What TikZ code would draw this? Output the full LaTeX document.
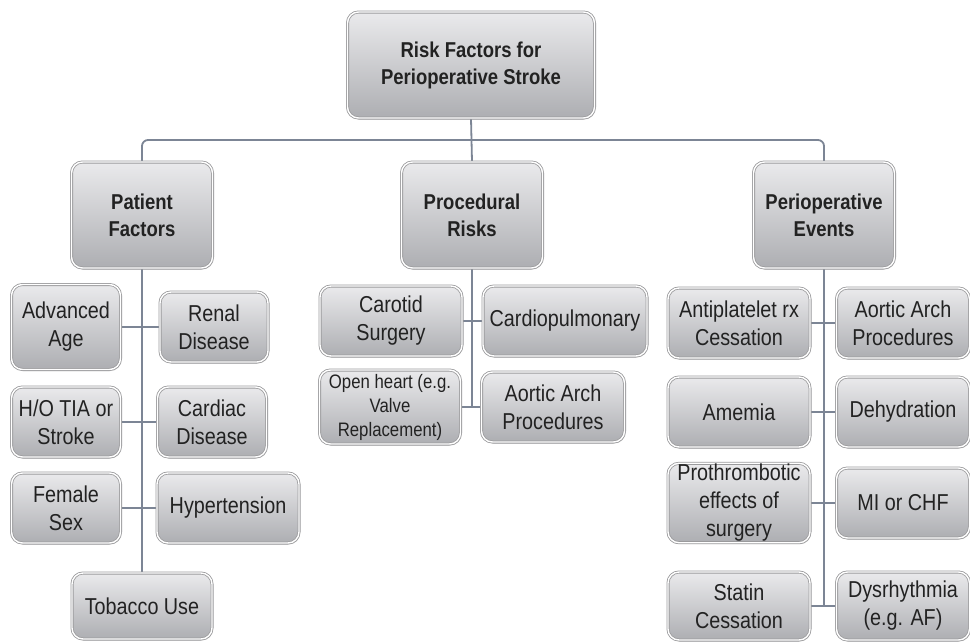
\documentclass[tikz,border=0pt]{standalone}
\usepackage{fontspec}
\setmainfont{Liberation Sans}[FakeStretch=0.86]
\usepackage{xcolor}
\usetikzlibrary{positioning,shadows,calc,backgrounds}
\definecolor{boxtop}{HTML}{EAEAEC}
\definecolor{boxbot}{HTML}{ADAEB2}
\definecolor{boxline}{HTML}{9A9A9C}
\definecolor{linkc}{HTML}{7C8595}
\definecolor{txt}{HTML}{222222}
\tikzset{%
   box/.style={
      rounded corners=11pt,
      draw=boxline,
      line width=0.8pt,
      double=white,
      double distance=1.4pt,
      top color=boxtop,
      bottom color=boxbot,
      drop shadow={opacity=0.25, shadow xshift=1pt, shadow yshift=-1.5pt},
      align=center,
      inner sep=1pt,
      text=txt,
      font=\fontsize{23}{28}\selectfont
   },
   head/.style={
      box,
      minimum width=141pt,
      minimum height=106pt,
      font=\fontsize{21.5}{27}\selectfont\bfseries
   },
   small/.style={
      font=\fontsize{19.5}{24}\selectfont
   },
   link/.style={
      draw=linkc,
      line width=1.8pt
   },
}
\begin{document}
\begin{tikzpicture}[x=1pt, y=1pt]
   \useasboundingbox (0,0) rectangle (970,-641);
   % top
   \node[head, minimum width=247pt] (root) at (471,-65) {Risk Factors for\\Perioperative Stroke};
   \node[head] (pat) at (142,-215) {Patient\\Factors};
   \node[head] (proc) at (472,-215) {Procedural\\Risks};
   \node[head] (peri) at (824,-215) {Perioperative\\Events};
   % patient factors
   \node[box, minimum width=109pt, minimum height=85pt] (age) at (66,-327) {Advanced\\Age};
   \node[box, minimum width=108pt, minimum height=70pt] (renal) at (214,-327) {Renal\\Disease};
   \node[box, minimum width=109pt, minimum height=70pt] (tia) at (66,-422) {H/O TIA or\\Stroke};
   \node[box, minimum width=109pt, minimum height=70pt] (cardiac) at (212,-422) {Cardiac\\Disease};
   \node[box, minimum width=109pt, minimum height=70pt] (female) at (66,-508) {Female\\Sex};
   \node[box, minimum width=142pt, minimum height=70pt] (hyper) at (228,-508) {Hypertension};
   \node[box, minimum width=140pt, minimum height=66pt] (tobacco) at (142,-606) {Tobacco Use};
   % procedural risks
   \node[box, minimum width=142pt, minimum height=70pt] (carotid) at (391,-321) {Carotid\\Surgery};
   \node[box, minimum width=164pt, minimum height=70pt] (cardio) at (565,-321) {Cardiopulmonary};
   \node[box, small, minimum width=141pt, minimum height=74pt] (openh) at (390,-407) {Open heart (e.g.\\Valve\\Replacement)};
   \node[box, minimum width=143pt, minimum height=70pt] (aortA) at (553,-407) {Aortic Arch\\Procedures};
   % perioperative events
   \node[box, minimum width=142pt, minimum height=70pt] (anti) at (739,-323) {Antiplatelet rx\\Cessation};
   \node[box, minimum width=133pt, minimum height=70pt] (aortB) at (903,-323) {Aortic Arch\\Procedures};
   \node[box, minimum width=142pt, minimum height=70pt] (amemia) at (739,-412) {Amemia};
   \node[box, minimum width=133pt, minimum height=70pt] (dehyd) at (903,-412) {Dehydration};
   \node[box, minimum width=142pt, minimum height=78pt] (proth) at (739,-503) {Prothrombotic\\effects of\\surgery};
   \node[box, minimum width=133pt, minimum height=70pt] (mi) at (903,-503) {MI or CHF};
   \node[box, minimum width=142pt, minimum height=68pt] (statin) at (739,-606) {Statin\\Cessation};
   \node[box, minimum width=133pt, minimum height=68pt] (dys) at (903,-606) {Dysrhythmia\\(e.g. AF)};
   % connectors
   \coordinate (bus) at (472,-140);
   \coordinate (procEnd) at (proc.south |- openh.east);
   \coordinate (periEnd) at (peri.south |- statin.east);
   \begin{pgfonlayer}{background}
   \draw[link] (root.south) -- (proc.north);
   \draw[link, rounded corners=6pt] (bus) -| (pat.north);
   \draw[link, rounded corners=6pt] (bus) -| (peri.north);
   \draw[link] (pat.south) -- (tobacco.north);
   \draw[link] (proc.south) -- (procEnd);
   \draw[link] (peri.south) -- (periEnd);
   \path[link] (age) edge (renal) (tia) edge (cardiac) (female) edge (hyper);
   \path[link] (carotid) edge (cardio) (openh) edge (aortA);
   \path[link] (anti) edge (aortB) (amemia) edge (dehyd) (proth) edge (mi) (statin) edge (dys);
   \end{pgfonlayer}
\end{tikzpicture}
\end{document}
